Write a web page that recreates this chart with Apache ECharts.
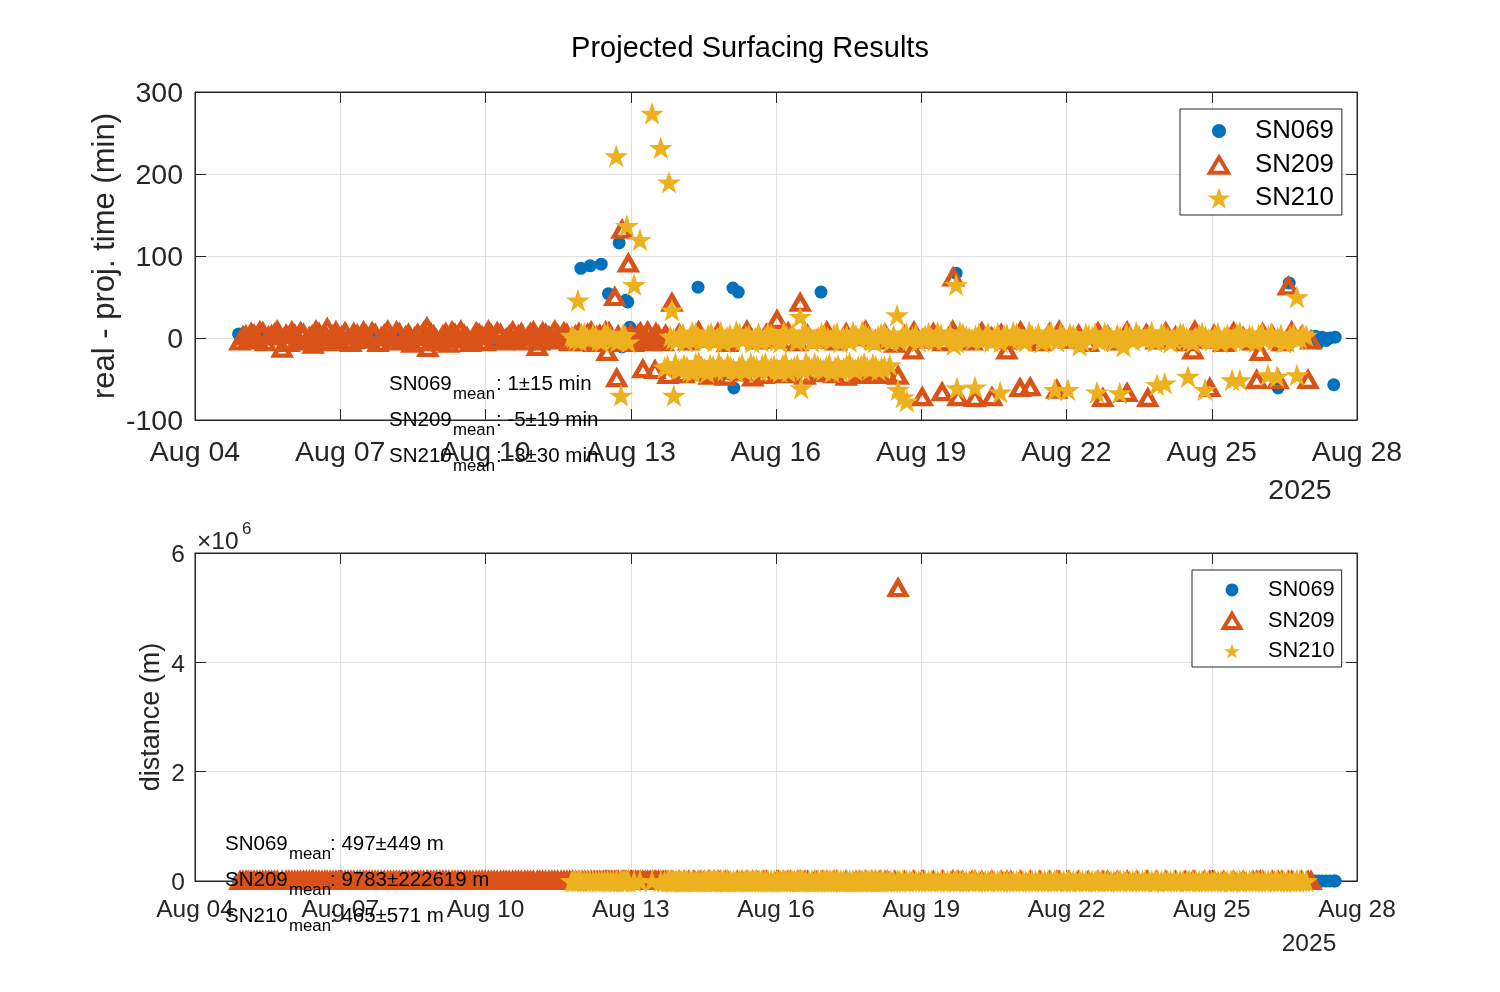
<!DOCTYPE html>
<html>
<head>
<meta charset="utf-8">
<title>Projected Surfacing Results</title>
<script src="https://cdn.jsdelivr.net/npm/echarts@6.0.0/dist/echarts.min.js"></script>
<style>
  html, body { margin: 0; padding: 0; background: #fff; }
  #chart { width: 1500px; height: 992px; }
</style>
</head>
<body>
<div id="chart"></div>
<script>
// x = days since Aug 04 00:00, dev = real - projected surfacing time (min), dist = distance (m)
var tickLabels = ['Aug 04', 'Aug 07', 'Aug 10', 'Aug 13', 'Aug 16', 'Aug 19', 'Aug 22', 'Aug 25', 'Aug 28'];
var floatNames = ['SN069', 'SN209', 'SN210'];
var statsMin = ['1\u00b115 min', '-5\u00b119 min', '-3\u00b130 min'];
var statsDist = ['497\u00b1449 m', '9783\u00b1222619 m', '465\u00b1571 m'];

// [day, dev, dist]
var sn069 = [
  [0.90,5,420],[1.02,6,610],[1.15,3,380],[1.32,4,250],[1.72,5,900],[1.90,2,330],[2.15,-3,540],[2.40,1,120],
  [2.62,-4,760],[2.85,3,280],[3.00,-8,1350],[3.20,2,460],[3.45,-6,190],[3.65,4,640],[3.90,-1,310],[4.20,3,870],
  [4.45,-5,220],[4.70,2,560],[5.00,-2,430],[5.25,4,150],[5.50,-3,980],[5.75,1,340],[6.00,3,620],[6.25,-4,270],
  [6.50,2,1120],[6.75,-2,390],[7.00,5,180],[7.25,0,710],[7.50,-3,460],[7.75,2,250],
  [7.97,85,380],[8.16,88,520],[8.39,90,300],[8.54,54,660],[8.76,116,210],[8.82,-11,840],[8.90,46,450],
  [8.94,44,280],[8.98,13,1500],[10.00,2,350],[10.39,62,330],[11.11,61,590],[11.13,-61,170],[11.22,56,720],
  [11.50,-1,480],[12.93,56,410],[13.50,3,260],[14.80,-2,530],[15.72,79,260],[16.50,1,610],[18.00,-3,290],
  [19.50,2,740],[21.00,0,380],[22.00,3,520],[22.37,-61,880],[22.60,67,350],
  [23.05,-2,460],[23.14,2,230],[23.20,-6,690],[23.28,1,380],[23.36,-3,520],[23.44,0,140],[23.52,-57,1620],[23.55,1,300]
];

var sn209 = [
  [0.93,-4,410],[1.05,3,760],[1.16,6,290],[1.28,-1,1180],[1.40,7,530],[1.52,2,240],[1.64,5,870],[1.80,-13,390],
  [1.88,4,650],[2.00,8,170],[2.12,-2,940],[2.24,5,360],[2.36,1,720],[2.44,-8,280],[2.56,6,510],[2.73,12,830],
  [2.85,3,210],[2.97,-3,1060],[3.10,7,450],[3.22,-6,320],[3.35,4,780],[3.48,8,260],[3.60,-2,590],[3.72,5,1310],
  [3.85,1,380],[3.98,9,700],[4.10,-4,230],[4.22,6,910],[4.35,2,470],[4.48,-7,150],[4.60,5,640],[4.72,7,1020],
  [4.79,13,340],[4.81,-12,560],[4.93,3,270],[5.06,-5,850],[5.18,6,430],[5.31,8,190],[5.43,-2,730],[5.56,4,1150],
  [5.68,-6,310],[5.81,7,580],[5.93,2,240],[6.06,9,960],[6.18,-3,420],[6.31,5,680],[6.43,-1,350],[6.56,8,1230],
  [6.68,3,200],[6.81,-4,540],[6.93,6,810],[7.07,-11,290],[7.18,7,670],[7.31,2,440],[7.43,9,180],[7.56,-3,900],
  [7.68,5,370],[7.80,-1,620],[7.93,6,250],[8.05,-5,1080],[8.18,8,460],[8.30,2,330],[8.43,-4,760],[8.51,-17,220],
  [8.55,7,590],[8.67,50,410],[8.71,-49,880],[8.74,3,300],[8.82,132,650],[8.86,-6,190],[8.95,91,1020],[9.00,5,370],
  [9.10,-3,540],[9.20,7,260],[9.25,-38,830],[9.30,1,420],[9.40,-5,1170],[9.50,-39,310],[9.52,6,690],[9.62,-2,230],
  [9.72,4,560],[9.77,-45,920],[9.85,43,380],[10.00,5,610],[10.20,-4,270],[10.30,-41,840],[10.40,8,450],[10.45,-36,190],
  [10.60,-1,730],[10.62,-46,350],[10.80,6,1090],[10.85,-40,280],[11.00,-6,620],[11.20,3,400],[11.40,9,170],[11.52,-48,760],
  [11.60,-3,330],[11.80,5,950],[12.02,22,480],[12.05,-2,260],[12.25,7,680],[12.30,-43,390],[12.45,-5,1140],[12.50,43,210],
  [12.65,4,570],[12.85,-2,320],[12.97,-43,860],[13.05,8,440],[13.25,-4,180],[13.45,6,710],[13.65,1,360],[13.72,-42,990],
  [13.85,9,250],[13.98,-43,610],[14.05,-3,430],[14.25,5,290],[14.30,-45,780],[14.45,-7,340],[14.52,-46,5360000],[14.65,3,520],
  [14.83,-15,230],[14.85,8,870],[15.02,-72,410],[15.05,-2,640],[15.25,6,300],[15.43,-66,1010],[15.45,-5,370],[15.65,9,190],
  [15.66,74,560],[15.76,-72,820],[15.85,2,280],[16.05,-4,690],[16.11,-73,430],[16.25,7,1200],[16.45,1,340],[16.46,-72,610],
  [16.65,5,250],[16.77,-15,780],[16.85,-3,460],[17.04,-61,300],[17.05,8,930],[17.25,2,380],[17.25,-60,170],[17.45,-5,720],
  [17.65,6,490],[17.80,-63,260],[17.85,9,1060],[18.05,-2,350],[18.25,4,640],[18.45,-6,210],[18.65,7,880],[18.75,-73,420],
  [18.85,3,560],[19.05,-4,300],[19.25,8,790],[19.25,-67,440],[19.45,1,1130],[19.65,5,270],[19.68,-73,610],[19.85,-3,380],
  [20.05,7,920],[20.25,2,230],[20.45,-5,670],[20.61,-15,410],[20.65,9,330],[20.85,-2,860],[20.96,-61,500],[21.05,4,190],
  [21.25,-6,740],[21.45,7,360],[21.65,1,1020],[21.85,-4,280],[21.93,-51,590],[22.00,-17,430],[22.05,6,240],[22.25,3,810],
  [22.37,-51,370],[22.45,-5,650],[22.58,63,300],[22.65,8,960],[22.85,2,420],[22.99,-51,540],[23.05,-3,260],
  [0.99,2,520],[1.10,-3,330],[1.22,4,870],[1.34,8,210],[1.46,-5,640],[1.58,3,450],[1.70,9,1120],[1.94,-6,280],
  [2.06,4,760],[2.18,7,390],[2.30,-4,540],[2.42,3,180],[2.50,9,920],[2.62,-2,350],[2.68,5,610],[2.79,-5,240],
  [2.91,8,830],[3.03,2,470],[3.16,-4,300],[3.28,6,1040],[3.41,-1,560],[3.54,3,220],[3.66,7,690],[3.78,-6,410],
  [3.91,4,150],[4.04,2,880],[4.16,8,330],[4.28,-3,610],[4.41,5,270],[4.54,1,950],[4.66,-5,440],[4.87,6,200],
  [4.99,-2,720],[5.12,3,380],[5.24,-7,560],[5.37,5,1190],[5.49,9,260],[5.62,1,630],[5.74,-3,410],[5.87,5,840],
  [5.99,-5,230],[6.12,4,570],[6.24,7,350],[6.37,-4,980],[6.49,3,290],[6.62,-2,660],[6.74,6,430],[6.87,1,180],
  [6.99,8,760],[7.12,-4,510],[7.24,5,240],[7.37,-2,890],[7.49,4,370],[7.62,7,620],[7.74,-5,280],[7.86,3,1010],
  [7.99,-2,450],[8.11,5,320],[8.24,-6,700],[8.36,4,240],[8.48,8,580],[8.61,-3,410],[8.90,2,760],[9.05,-6,330],
  [9.15,4,520],[9.35,8,270],[9.45,-2,640],[9.57,3,390],[9.67,-5,810],
  [10.10,-44,300],[10.52,-40,520],[10.72,-43,410],[10.95,-47,680],[11.30,-42,260],[11.75,-45,830],[12.15,-44,350],
  [12.60,-46,590],[12.80,-41,220],[13.20,-44,740],[13.45,-47,310],[13.85,-45,500],[14.15,-44,420]
];

var sn210 = [
  [7.78,3,420],[7.86,-2,810],[7.91,46,150],[7.98,5,560],[8.10,0,290],[8.22,4,710],[8.34,-3,480],[8.46,6,1020],
  [8.58,1,640],[8.70,222,390],[8.72,-4,870],[8.78,-2,230],[8.80,-70,580],[8.88,3,460],[8.92,137,1100],[8.95,-5,740],
  [9.07,65,320],[9.19,120,510],[9.44,274,960],[9.62,232,280],[9.79,190,600],[9.85,34,430],[9.89,-70,170],
  [7.82,1,360],[7.94,-3,720],[8.04,6,280],[8.16,-1,530],[8.28,2,410],[8.40,-4,860],[8.52,5,240],[8.64,-2,610],[8.84,4,370],
  [9.82,2,380],[9.95,-3,620],[10.08,5,250],[10.21,0,940],[10.34,6,410],[10.47,-2,180],[10.60,4,730],[10.73,-4,360],
  [10.86,7,1250],[10.99,1,290],[11.12,-3,560],[11.25,5,840],[11.38,2,220],[11.51,-5,670],[11.64,6,390],[11.77,0,1080],
  [11.90,4,310],[12.03,-3,590],[12.16,7,200],[12.29,1,880],[12.42,-4,450],[12.55,5,330],[12.68,2,760],[12.81,-2,1410],
  [12.94,6,270],[13.07,0,520],[13.20,4,690],[13.33,-5,240],[13.46,3,980],[13.59,7,370],[13.72,-1,610],[13.85,5,190],
  [13.98,-3,830],[14.11,2,440],[14.24,6,1170],[14.37,-4,300],[14.50,28,650],[14.63,3,410],[14.76,-2,900],[14.89,5,260],
  [15.02,0,720],[15.15,6,350],[15.28,-3,1030],[15.41,4,480],[15.54,1,210],[15.67,-8,640],[15.80,7,380],[15.93,2,860],
  [16.06,-2,290],[16.19,5,570],[16.32,0,1320],[16.45,-4,430],[16.58,6,180],[16.71,3,750],[16.84,-1,340],[16.97,5,620],
  [17.10,-3,950],[17.23,7,270],[17.36,1,510],[17.49,-5,810],[17.62,4,230],[17.75,0,690],[17.88,6,400],[18.01,-2,1140],
  [18.14,3,320],[18.27,-9,580],[18.40,5,250],[18.53,1,870],[18.66,-3,460],[18.79,6,190],[18.92,0,730],[19.05,4,350],
  [19.18,-10,1060],[19.31,2,280],[19.44,7,620],[19.57,-1,410],[19.70,3,940],[19.83,-4,200],[19.96,5,560],[20.09,1,790],
  [20.22,-2,330],[20.35,6,1210],[20.48,0,470],[20.61,-5,240],[20.74,4,680],[20.87,2,390],[21.00,-3,850],[21.13,6,300],
  [21.26,1,600],[21.39,-4,1000],[21.52,5,260],[21.65,0,540],[21.78,3,770],[21.91,-5,350],[22.04,6,920],[22.17,2,220],
  [22.30,-2,640],[22.43,4,430],[22.56,-4,1150],[22.69,5,310],[22.82,0,580],[22.95,3,700],
  [9.88,-1,540],[10.01,4,320],[10.14,-4,770],[10.27,7,280],[10.40,1,630],[10.53,-3,410],[10.66,6,190],[10.79,0,860],
  [10.92,-5,350],[11.05,4,590],[11.18,8,240],[11.31,-2,720],[11.44,3,460],[11.57,0,1030],[11.70,-4,300],[11.83,6,560],
  [11.96,1,210],[12.09,-5,680],[12.22,3,390],[12.35,5,920],[12.48,-2,270],[12.61,7,540],[12.74,-4,330],[12.87,1,760],
  [13.00,4,450],[13.13,-3,200],[13.26,6,630],[13.39,0,380],[13.52,-4,1100],[13.65,3,290],[13.78,8,570],[13.91,1,420],
  [14.04,-5,850],[14.17,5,260],[14.30,0,640],[14.43,3,330],[14.56,-3,710],[14.69,6,480],[14.82,1,220],[14.95,-4,940],
  [15.08,3,370],[15.21,0,590],[15.34,7,250],[15.47,-2,820],[15.60,4,430],[15.73,-5,310],[15.86,5,670],[15.99,0,190],
  [16.12,3,540],[16.25,-3,880],[16.38,6,350],[16.51,1,620],[16.64,-5,280],[16.77,4,760],[16.90,7,410],[17.03,0,230],
  [17.16,-4,690],[17.29,3,500],[17.42,5,1070],[17.55,-2,340],[17.68,7,580],[17.81,-4,260],[17.94,2,830],[18.07,5,440],
  [18.20,0,310],[18.33,-4,720],[18.46,3,190],[18.59,6,560],[18.72,-2,980],[18.85,4,370],[18.98,-4,640],[19.11,1,280],
  [19.24,6,510],[19.37,-3,870],[19.50,3,330],[19.63,0,600],[19.76,7,240],[19.89,-2,750],[20.02,4,420],[20.15,-5,180],
  [20.28,2,690],[20.41,5,1020],[20.54,-3,360],[20.67,1,540],[20.80,6,270],[20.93,-2,810],[21.06,3,450],[21.19,-5,300],
  [21.32,4,660],[21.45,0,230],[21.58,7,580],[21.71,-3,910],[21.84,2,340],[21.97,4,620],[22.10,-2,270],[22.23,6,780],
  [22.36,0,400],[22.49,-5,550],[22.62,3,210],[22.75,-1,690],[22.88,5,360],
  [9.70,-36,450],[9.98,-38,820],[10.10,-33,290],[10.22,-40,630],[10.34,-31,370],[10.46,-36,1090],[10.58,-42,240],[10.70,-34,560],
  [10.82,-30,780],[10.94,-39,320],[11.06,-35,940],[11.18,-41,410],[11.30,-32,190],[11.42,-37,700],[11.54,-34,350],[11.66,-40,1260],
  [11.78,-31,280],[11.90,-36,590],[12.02,-38,830],[12.14,-33,230],[12.26,-41,670],[12.38,-35,440],[12.62,-30,1010],[12.74,-37,300],
  [12.86,-34,580],[12.98,-39,760],[13.10,-32,210],[13.22,-36,890],[13.34,-40,390],[13.46,-33,640],[13.58,-37,270],[13.70,-35,1180],
  [13.82,-31,460],[13.94,-38,330],[14.06,-34,720],[14.18,-36,250],[14.35,-33,540],
  [9.76,-34,380],[9.92,-31,610],[10.04,-37,240],[10.16,-35,790],[10.28,-42,330],[10.40,-30,560],[10.52,-38,210],[10.64,-33,870],
  [10.76,-39,420],[10.88,-36,290],[11.00,-32,680],[11.12,-38,350],[11.24,-35,940],[11.36,-40,270],[11.48,-31,530],[11.60,-36,410],
  [11.72,-33,760],[11.84,-39,190],[11.96,-34,620],[12.08,-41,300],[12.20,-30,850],[12.32,-37,460],[12.44,-33,240],[12.56,-39,710],
  [12.68,-35,380],[12.80,-31,560],[12.92,-37,290],[13.04,-35,980],[13.16,-41,330],[13.28,-33,610],[13.40,-37,250],[13.52,-30,740],
  [13.64,-39,420],[13.76,-34,310],[13.88,-36,880],[14.00,-32,470],[14.12,-39,230],[14.24,-35,660],
  [12.50,26,380],[12.52,-61,920],[14.52,-63,430],[14.62,-72,270],[14.70,-77,650],[15.72,65,340],[15.74,-61,780],[16.11,-60,210],
  [16.63,-66,590],[17.76,-63,1040],[18.03,-63,360],[18.63,-66,480],[19.10,-67,730],[19.87,-57,290],[20.03,-55,610],[20.51,-47,850],
  [20.86,-63,240],[21.42,-51,520],[21.58,-51,390],[22.16,-45,960],[22.35,-47,310],[22.76,-45,670],[22.76,50,440]
];

var FONT = 'Liberation Sans, Arial, Helvetica, sans-serif';
var AX = '#262626';
var GRIDC = '#dfdfdf';
var colors = ['#0072BD', '#D95319', '#EDB120'];

var STAR = 'path://M50,4.8 L61.2,39.35 L97.55,39.35 L68.15,60.7 L79.4,95.25 L50,73.9 L20.6,95.25 L31.85,60.7 L2.45,39.35 L38.8,39.35 Z';
var ICON_CIRCLE = 'path://M0,0 M100,100 M50,21 C66,21 79,34 79,50 C79,66 66,79 50,79 C34,79 21,66 21,50 C21,34 34,21 50,21 Z';
var ICON_TRI = 'path://M0,0 M100,100 M50,20 L88,84 L12,84 Z';
var ICON_STAR = 'path://M0,0 M100,100 M50,4.8 L61.2,39.35 L97.55,39.35 L68.15,60.7 L79.4,95.25 L50,73.9 L20.6,95.25 L31.85,60.7 L2.45,39.35 L38.8,39.35 Z';
var ICON_STAR_S = 'path://M0,0 M100,100 M50,16.1 L58.4,42 L85.2,42 L63.6,58 L72,84.4 L50,68.4 L28,84.4 L36.4,58 L14.8,42 L41.6,42 Z';

var styles = [
  { color: colors[0], opacity: 1 },
  { color: 'rgba(0,0,0,0)', borderColor: colors[1], borderWidth: 4.5, opacity: 1 },
  { color: colors[2], borderWidth: 0, opacity: 1 }
];
var symbols = ['circle', 'triangle', STAR];
var symbolSizes = [13, [16, 14], 24];

function xAxisFor(grid, top, fontSize, margin) {
  return {
    type: 'value', gridIndex: grid, position: top ? 'top' : 'bottom',
    min: 0, max: 24, interval: 3,
    axisLine: { show: true, onZero: false, lineStyle: { color: AX, width: 1 } },
    axisTick: { show: true, inside: true, length: 11, lineStyle: { color: AX, width: 1 } },
    axisLabel: {
      show: !top, margin: margin, color: AX, fontSize: fontSize, fontFamily: FONT,
      lineHeight: fontSize, showMinLabel: true, showMaxLabel: true,
      formatter: function (v) { return tickLabels[Math.round(v / 3)]; }
    },
    splitLine: { show: !top, lineStyle: { color: GRIDC, width: 1 } }
  };
}

// tick labels sit a touch low, as in the reference: an empty thin first line pushes them down
function yAxisFor(grid, right, min, max, interval, fontSize, margin, scale, name, nameSize, nameGap) {
  return {
    type: 'value', gridIndex: grid, position: right ? 'right' : 'left',
    min: min, max: max, interval: interval,
    name: right ? '' : name, nameLocation: 'middle', nameGap: nameGap, nameMoveOverlap: false,
    nameTextStyle: { fontSize: nameSize, fontFamily: FONT, color: AX },
    axisLine: { show: true, onZero: false, lineStyle: { color: AX, width: 1 } },
    axisTick: { show: true, inside: true, length: 11, lineStyle: { color: AX, width: 1 } },
    axisLabel: {
      show: !right, margin: margin, color: AX, fontSize: fontSize, fontFamily: FONT,
      formatter: function (v) { return '{g| }\n{v|' + String(v / scale) + '}'; },
      rich: {
        g: { fontSize: 1, lineHeight: 5 },
        v: { fontSize: fontSize, fontFamily: FONT, color: AX, lineHeight: fontSize, align: 'right' }
      }
    },
    splitLine: { show: !right, lineStyle: { color: GRIDC, width: 1 } }
  };
}

function txt(x, y, s, size, align, color) {
  return {
    type: 'text', x: x, y: y, silent: true, z: 100,
    style: {
      text: s, fontSize: size, fontFamily: FONT, fill: color || '#000',
      align: align || 'left', verticalAlign: 'middle',
      textAlign: align || 'left', textVerticalAlign: 'middle'
    }
  };
}

var series = [];
[sn069, sn209, sn210].forEach(function (rows, i) {
  series.push({
    name: floatNames[i], type: 'scatter', xAxisIndex: 0, yAxisIndex: 0,
    symbol: symbols[i], symbolSize: symbolSizes[i], symbolKeepAspect: true,
    itemStyle: styles[i], clip: false, silent: true,
    data: rows.map(function (r) { return [r[0], r[1]]; })
  });
});
[sn069, sn209, sn210].forEach(function (rows, i) {
  series.push({
    name: floatNames[i], type: 'scatter', xAxisIndex: 2, yAxisIndex: 2,
    symbol: symbols[i], symbolSize: symbolSizes[i], symbolKeepAspect: true,
    itemStyle: styles[i], clip: false, silent: true,
    data: rows.map(function (r) { return [r[0], r[2]]; })
  });
});

var graphics = [
  txt(750, 49, 'Projected Surfacing Results', 29, 'center', '#000'),
  txt(1300, 491, '2025', 28.5, 'center', AX),
  txt(1309, 944, '2025', 24.5, 'center', AX),
  txt(197, 542, '\u00d710', 24.5, 'left', AX),
  txt(242, 529, '6', 17, 'left', AX)
];
var topRows = [384, 420, 456];
var botRows = [844, 880, 916];
floatNames.forEach(function (n, i) {
  graphics.push(txt(389, topRows[i], n, 20.5, 'left'));
  graphics.push(txt(453, topRows[i] + 10, 'mean', 16.8, 'left'));
  graphics.push(txt(496, topRows[i], ': ' + statsMin[i], 20.5, 'left'));
  graphics.push(txt(225, botRows[i], n, 20.5, 'left'));
  graphics.push(txt(289, botRows[i] + 10, 'mean', 16.8, 'left'));
  graphics.push(txt(330, botRows[i], ': ' + statsDist[i], 20.5, 'left'));
});

function legendFor(left, top, pad, gap, h, fontSize, textPad, starIcon) {
  return {
    left: left, top: top, orient: 'vertical', padding: pad, itemGap: gap,
    itemWidth: h, itemHeight: h, symbolKeepAspect: true, selectedMode: false,
    borderColor: AX, borderWidth: 1, borderRadius: 0, backgroundColor: '#fff',
    textStyle: { fontSize: fontSize, fontFamily: FONT, color: '#000', padding: [0, 0, 0, textPad] },
    data: [
      { name: 'SN069', icon: ICON_CIRCLE, itemStyle: { color: colors[0], borderWidth: 0, opacity: 1 } },
      { name: 'SN209', icon: ICON_TRI, itemStyle: { color: 'rgba(0,0,0,0)', borderColor: colors[1], borderWidth: 4, opacity: 1 } },
      { name: 'SN210', icon: starIcon, itemStyle: { color: colors[2], borderWidth: 0, opacity: 1 } }
    ]
  };
}

var chart = echarts.init(document.getElementById('chart'), null, { renderer: 'canvas' });
chart.setOption({
  animation: false,
  backgroundColor: '#fff',
  grid: [
    { left: 195, right: 143, top: 92, height: 328, show: true, borderColor: AX, borderWidth: 1, backgroundColor: '#fff', outerBoundsMode: 'none' },
    { left: 195, right: 143, top: 553, height: 328, show: true, borderColor: AX, borderWidth: 1, backgroundColor: '#fff', outerBoundsMode: 'none' }
  ],
  xAxis: [
    xAxisFor(0, false, 28.5, 19),
    xAxisFor(0, true, 28.5, 19),
    xAxisFor(1, false, 24.5, 17),
    xAxisFor(1, true, 24.5, 17)
  ],
  yAxis: [
    yAxisFor(0, false, -100, 300, 100, 28.5, 12, 1, 'real - proj. time (min)', 31, 74),
    yAxisFor(0, true, -100, 300, 100, 28.5, 12, 1, '', 31, 74),
    yAxisFor(1, false, 0, 6e6, 2e6, 24.5, 10, 1e6, 'distance (m)', 27, 30),
    yAxisFor(1, true, 0, 6e6, 2e6, 24.5, 10, 1e6, '', 27, 30)
  ],
  legend: [
    legendFor(1180, 109, [9, 8, 4, 25], 6.5, 24, 25.8, 19, ICON_STAR),
    legendFor(1192, 570, [9, 7, 5, 27], 6.5, 22, 21.8, 20, ICON_STAR_S)
  ],
  graphic: graphics,
  series: series
});
</script>
</body>
</html>
